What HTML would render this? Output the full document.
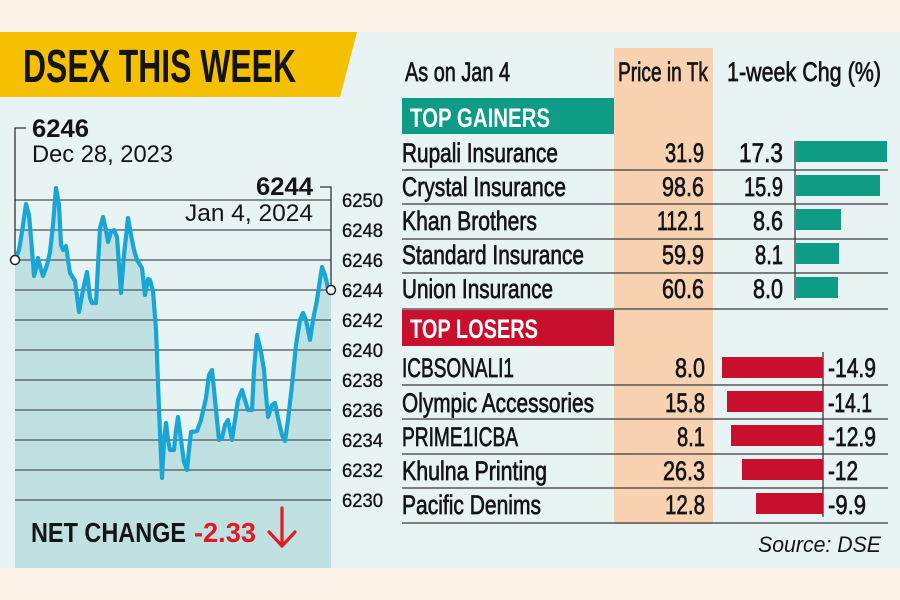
<!DOCTYPE html>
<html><head><meta charset="utf-8"><style>
html,body{margin:0;padding:0;background:#fdf3e9;}
svg{display:block;}
text{font-family:"Liberation Sans",sans-serif;fill:#141414;}
.w{stroke:#141414;stroke-width:0.7;}
.t{stroke:#141414;stroke-width:0.35;}
</style></head><body>
<svg width="900" height="600" viewBox="0 0 900 600" xmlns="http://www.w3.org/2000/svg">
<rect x="0" y="0" width="900" height="600" fill="#fdf3e9"/>
<rect x="0" y="32" width="900" height="536" fill="#e8f3f3"/>
<!-- banner -->
<polygon points="0,32 357,32 340,97 0,97" fill="#f4c000"/>
<text x="23" y="82" font-size="46" font-weight="bold" textLength="273" lengthAdjust="spacingAndGlyphs">DSEX THIS WEEK</text>

<!-- chart fill -->
<polygon fill="#c0e1e1" points="15,568 15,260 19,250 22,232 26,204 29,215 32,250 34,276 36,268 38,258 40,266 43,276 47,265 50,252 53,225 56,188 59,205 61,245 63,250 66,246 68,260 70,273 75,281 79,312 83,290 87,272 90,298 92,303 96,303 98,265 100,228 103,217 106,230 108,242 111,232 114,230 117,237 119,265 121,293 124,255 128,218 131,235 134,250 137,260 142,268 145,295 148,279 150,280 153,291 156,330 159,410 162,478 164,440 166,423 168,440 170,450 174,450 176,430 178,417 181,440 184,462 187,470 189,450 191,432 197,431 201,420 206,398 209,375 212,370 215,400 219,440 222,438 225,425 228,420 232,440 235,420 238,400 242,390 245,400 248,410 252,410 254,370 257,335 261,352 264,370 266,395 268,417 272,405 275,403 278,418 282,435 285,441 288,420 292,385 296,345 300,320 303,313 306,320 310,340 313,320 317,300 320,280 322,267 325,275 328,288 331,290 331,568"/>
<!-- gridlines -->
<g stroke="#5e6c6e" stroke-width="1.5">
<line x1="15" y1="200" x2="331" y2="200"/>
<line x1="15" y1="230" x2="331" y2="230"/>
<line x1="15" y1="260" x2="331" y2="260"/>
<line x1="15" y1="290" x2="331" y2="290"/>
<line x1="15" y1="320" x2="331" y2="320"/>
<line x1="15" y1="350" x2="331" y2="350"/>
<line x1="15" y1="380" x2="331" y2="380"/>
<line x1="15" y1="410" x2="331" y2="410"/>
<line x1="15" y1="440" x2="331" y2="440"/>
<line x1="15" y1="470" x2="331" y2="470"/>
<line x1="15" y1="500" x2="331" y2="500"/>
</g>
<!-- annotation brackets -->
<g stroke="#333" stroke-width="1.3" fill="none">
<polyline points="26,128 15,128 15,260"/>
<polyline points="320,187 331,187 331,290"/>
</g>
<!-- curve -->
<polyline fill="none" stroke="#19a6d6" stroke-width="4.2" stroke-linejoin="round" stroke-linecap="round" points="15,260 19,250 22,232 26,204 29,215 32,250 34,276 36,268 38,258 40,266 43,276 47,265 50,252 53,225 56,188 59,205 61,245 63,250 66,246 68,260 70,273 75,281 79,312 83,290 87,272 90,298 92,303 96,303 98,265 100,228 103,217 106,230 108,242 111,232 114,230 117,237 119,265 121,293 124,255 128,218 131,235 134,250 137,260 142,268 145,295 148,279 150,280 153,291 156,330 159,410 162,478 164,440 166,423 168,440 170,450 174,450 176,430 178,417 181,440 184,462 187,470 189,450 191,432 197,431 201,420 206,398 209,375 212,370 215,400 219,440 222,438 225,425 228,420 232,440 235,420 238,400 242,390 245,400 248,410 252,410 254,370 257,335 261,352 264,370 266,395 268,417 272,405 275,403 278,418 282,435 285,441 288,420 292,385 296,345 300,320 303,313 306,320 310,340 313,320 317,300 320,280 322,267 325,275 328,288 331,290"/>
<circle cx="15" cy="260" r="4.5" fill="#fff" stroke="#222" stroke-width="1.5"/>
<circle cx="331" cy="290" r="4.5" fill="#fff" stroke="#222" stroke-width="1.5"/>

<text x="32" y="137" font-size="25" font-weight="bold" textLength="57" lengthAdjust="spacingAndGlyphs">6246</text>
<text x="32" y="162" font-size="24" textLength="141" lengthAdjust="spacingAndGlyphs">Dec 28, 2023</text>
<text x="256" y="195" font-size="25" font-weight="bold" textLength="57" lengthAdjust="spacingAndGlyphs">6244</text>
<text x="185" y="221" font-size="24" textLength="128" lengthAdjust="spacingAndGlyphs">Jan 4, 2024</text>

<!-- y tick labels -->
<g font-size="19" class="t">
<text x="342" y="207" textLength="41" lengthAdjust="spacingAndGlyphs">6250</text>
<text x="342" y="237" textLength="41" lengthAdjust="spacingAndGlyphs">6248</text>
<text x="342" y="267" textLength="41" lengthAdjust="spacingAndGlyphs">6246</text>
<text x="342" y="297" textLength="41" lengthAdjust="spacingAndGlyphs">6244</text>
<text x="342" y="327" textLength="41" lengthAdjust="spacingAndGlyphs">6242</text>
<text x="342" y="357" textLength="41" lengthAdjust="spacingAndGlyphs">6240</text>
<text x="342" y="387" textLength="41" lengthAdjust="spacingAndGlyphs">6238</text>
<text x="342" y="417" textLength="41" lengthAdjust="spacingAndGlyphs">6236</text>
<text x="342" y="447" textLength="41" lengthAdjust="spacingAndGlyphs">6234</text>
<text x="342" y="477" textLength="41" lengthAdjust="spacingAndGlyphs">6232</text>
<text x="342" y="507" textLength="41" lengthAdjust="spacingAndGlyphs">6230</text>
</g>

<!-- net change -->
<text x="31" y="542" font-size="28" font-weight="bold" textLength="155" lengthAdjust="spacingAndGlyphs">NET CHANGE</text>
<text x="194" y="542" font-size="28" font-weight="bold" textLength="62" lengthAdjust="spacingAndGlyphs" style="fill:#e01b24">-2.33</text>
<g stroke="#e01b24" stroke-width="3.2" fill="none" stroke-linecap="round" stroke-linejoin="round">
<line x1="282" y1="508" x2="282" y2="546"/>
<polyline points="269,532 282,546 295,532"/>
</g>

<!-- table -->
<rect x="614" y="48" width="99" height="476" fill="#f9d3b1"/>
<g font-size="27" class="w">
<text x="405" y="81" textLength="105" lengthAdjust="spacingAndGlyphs">As on Jan 4</text>
<text x="618" y="81" textLength="90" lengthAdjust="spacingAndGlyphs">Price in Tk</text>
<text x="727" y="81" textLength="154" lengthAdjust="spacingAndGlyphs">1-week Chg (%)</text>
</g>
<rect x="402" y="98" width="212" height="36" fill="#0e9c86"/>
<text x="410" y="127" font-size="27" font-weight="bold" textLength="140" lengthAdjust="spacingAndGlyphs" style="fill:#fff">TOP GAINERS</text>

<g stroke="#3a3a3a" stroke-width="1.3">
<line x1="402" y1="170" x2="888" y2="170"/>
<line x1="402" y1="204" x2="888" y2="204"/>
<line x1="402" y1="239" x2="888" y2="239"/>
<line x1="402" y1="273" x2="888" y2="273"/>
<line x1="402" y1="309" x2="888" y2="309"/>
<line x1="402" y1="385" x2="888" y2="385"/>
<line x1="402" y1="419" x2="888" y2="419"/>
<line x1="402" y1="454" x2="888" y2="454"/>
<line x1="402" y1="488" x2="888" y2="488"/>
<line x1="402" y1="523" x2="888" y2="523"/>
<line x1="795" y1="141" x2="795" y2="300"/>
<line x1="823" y1="352" x2="823" y2="517"/>
</g>

<!-- gainer bars -->
<g fill="#0e9c86">
<rect x="796" y="141" width="91" height="21"/>
<rect x="796" y="175" width="84" height="21"/>
<rect x="796" y="209" width="45" height="21"/>
<rect x="796" y="243" width="43" height="21"/>
<rect x="796" y="277" width="42" height="21"/>
</g>
<g font-size="27" class="w">
<text x="402" y="162" textLength="156" lengthAdjust="spacingAndGlyphs">Rupali Insurance</text>
<text x="402" y="196" textLength="164" lengthAdjust="spacingAndGlyphs">Crystal Insurance</text>
<text x="402" y="230" textLength="135" lengthAdjust="spacingAndGlyphs">Khan Brothers</text>
<text x="402" y="264" textLength="182" lengthAdjust="spacingAndGlyphs">Standard Insurance</text>
<text x="402" y="298" textLength="151" lengthAdjust="spacingAndGlyphs">Union Insurance</text>

<text x="665" y="162" textLength="39" lengthAdjust="spacingAndGlyphs">31.9</text>
<text x="662" y="196" textLength="42" lengthAdjust="spacingAndGlyphs">98.6</text>
<text x="657" y="230" textLength="47" lengthAdjust="spacingAndGlyphs">112.1</text>
<text x="662" y="264" textLength="42" lengthAdjust="spacingAndGlyphs">59.9</text>
<text x="662" y="298" textLength="42" lengthAdjust="spacingAndGlyphs">60.6</text>

<text x="739" y="162" textLength="44" lengthAdjust="spacingAndGlyphs">17.3</text>
<text x="744" y="196" textLength="39" lengthAdjust="spacingAndGlyphs">15.9</text>
<text x="753" y="230" textLength="30" lengthAdjust="spacingAndGlyphs">8.6</text>
<text x="755" y="264" textLength="28" lengthAdjust="spacingAndGlyphs">8.1</text>
<text x="753" y="298" textLength="30" lengthAdjust="spacingAndGlyphs">8.0</text>
</g>

<rect x="402" y="310" width="212" height="36" fill="#c8102e"/>
<text x="410" y="338" font-size="27" font-weight="bold" textLength="128" lengthAdjust="spacingAndGlyphs" style="fill:#fff">TOP LOSERS</text>

<g fill="#c8102e">
<rect x="722" y="357" width="101" height="21"/>
<rect x="727" y="391" width="96" height="21"/>
<rect x="731" y="425" width="92" height="21"/>
<rect x="742" y="459" width="81" height="21"/>
<rect x="756" y="493" width="67" height="21"/>
</g>
<g font-size="27" class="w">
<text x="402" y="377" textLength="112" lengthAdjust="spacingAndGlyphs">ICBSONALI1</text>
<text x="402" y="412" textLength="192" lengthAdjust="spacingAndGlyphs">Olympic Accessories</text>
<text x="402" y="446" textLength="116" lengthAdjust="spacingAndGlyphs">PRIME1ICBA</text>
<text x="402" y="480" textLength="145" lengthAdjust="spacingAndGlyphs">Khulna Printing</text>
<text x="402" y="514" textLength="139" lengthAdjust="spacingAndGlyphs">Pacific Denims</text>

<text x="675" y="377" textLength="30" lengthAdjust="spacingAndGlyphs">8.0</text>
<text x="665" y="412" textLength="40" lengthAdjust="spacingAndGlyphs">15.8</text>
<text x="677" y="446" textLength="28" lengthAdjust="spacingAndGlyphs">8.1</text>
<text x="663" y="480" textLength="42" lengthAdjust="spacingAndGlyphs">26.3</text>
<text x="665" y="514" textLength="40" lengthAdjust="spacingAndGlyphs">12.8</text>

<text x="828" y="377" textLength="48" lengthAdjust="spacingAndGlyphs">-14.9</text>
<text x="828" y="412" textLength="44" lengthAdjust="spacingAndGlyphs">-14.1</text>
<text x="828" y="446" textLength="48" lengthAdjust="spacingAndGlyphs">-12.9</text>
<text x="828" y="480" textLength="30" lengthAdjust="spacingAndGlyphs">-12</text>
<text x="828" y="514" textLength="38" lengthAdjust="spacingAndGlyphs">-9.9</text>
</g>

<text x="758" y="552" font-size="22" font-style="italic" textLength="123" lengthAdjust="spacingAndGlyphs">Source: DSE</text>
</svg>
</body></html>
